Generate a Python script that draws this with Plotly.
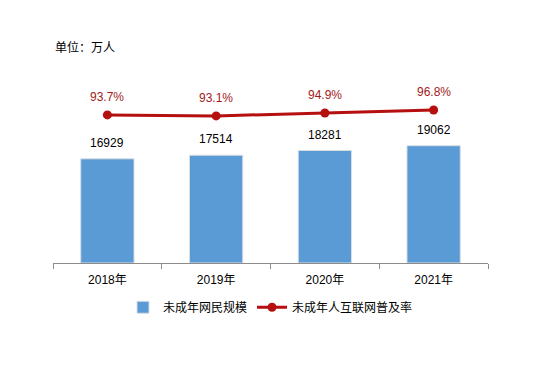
import plotly.graph_objects as go

years = ["2018年", "2019年", "2020年", "2021年"]
netizens = [16929, 17514, 18281, 19062]
rate = [93.7, 93.1, 94.9, 96.8]
rate_labels = ["93.7%", "93.1%", "94.9%", "96.8%"]

FONT = "Liberation Sans, Arial, Noto Sans CJK SC, sans-serif"
BAR_COLOR = "#5B9BD5"
LINE_COLOR = "#B50F0F"

fig = go.Figure()
fig.add_trace(go.Bar(
    x=years, y=netizens, name="未成年网民规模",
    marker=dict(color=BAR_COLOR, line=dict(color="#D9DEE3", width=1)),
    width=0.49, yaxis="y",
))
fig.add_trace(go.Scatter(
    x=years, y=rate, name="未成年人互联网普及率",
    mode="lines+markers",
    line=dict(color=LINE_COLOR, width=3),
    marker=dict(color=LINE_COLOR, size=9),
    yaxis="y2",
))

annotations = []
for x, v in zip(years, netizens):
    annotations.append(dict(x=x, y=v, xref="x", yref="y", text=str(v), showarrow=False,
                            yshift=16, font=dict(size=12, color="#000000", family=FONT)))
for x, v, t in zip(years, rate, rate_labels):
    annotations.append(dict(x=x, y=v, xref="x", yref="y2", text=t, showarrow=False,
                            yshift=18, font=dict(size=12, color="#A31A1A", family=FONT)))
annotations.append(dict(x=0.0, y=1.125, xref="paper", yref="paper", text="单位：万人", showarrow=False,
                        xanchor="left", yanchor="middle", font=dict(size=12, color="#000000", family=FONT)))

fig.update_layout(
    width=535, height=377,
    margin=dict(l=45, r=55, t=63, b=122),
    paper_bgcolor="white", plot_bgcolor="white",
    font=dict(family=FONT, size=12, color="#000000"),
    showlegend=True,
    legend=dict(orientation="h", x=0.5, xanchor="center", y=-0.155, yanchor="top",
                font=dict(size=12, family=FONT), itemwidth=30),
    xaxis=dict(showline=True, linecolor="#8C8C8C", linewidth=1, ticks="outside",
               tickson="boundaries", ticklen=5, tickcolor="#8C8C8C", showgrid=False,
               ticklabelstandoff=6,
               tickfont=dict(size=12, family=FONT)),
    yaxis=dict(range=[0, 31200], visible=False, showgrid=False),
    yaxis2=dict(range=[0, 121.5], overlaying="y", side="right", visible=False, showgrid=False),
    annotations=annotations,
    bargap=0.51,
)

fig.write_html("out.html")
